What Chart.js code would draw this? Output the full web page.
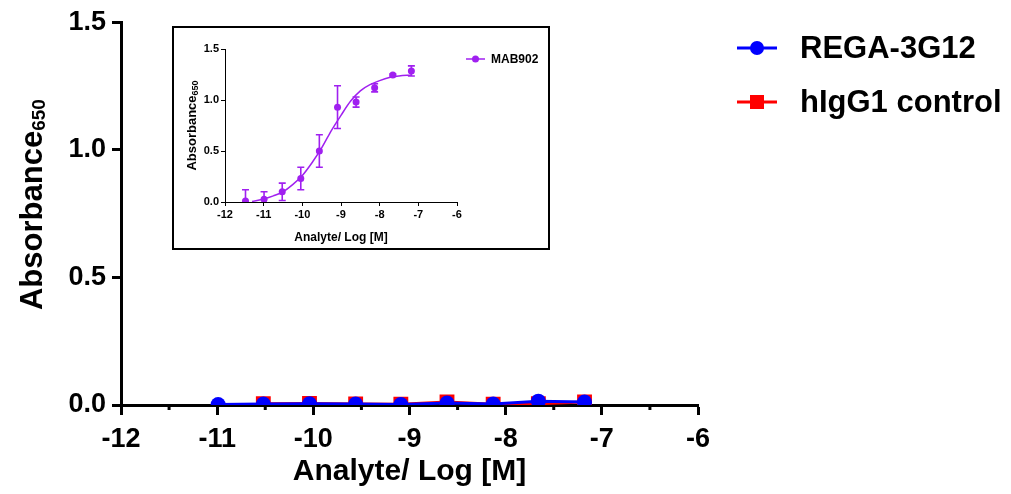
<!DOCTYPE html>
<html>
<head>
<meta charset="utf-8">
<script src="https://cdn.jsdelivr.net/npm/chart.js@4/dist/chart.umd.min.js"></script>
<style>
  html, body { margin: 0; padding: 0; background: #fff; }
  #wrap { position: relative; width: 1011px; height: 494px; }
  #main { position: absolute; left: 0; top: 0; }
  #insetBox {
    position: absolute; left: 172px; top: 26px;
    width: 374px; height: 220px;
    border: 2px solid #000; background: #fff;
  }
</style>
</head>
<body>
<div id="wrap">
  <canvas id="main" width="1011" height="494"></canvas>
  <div id="insetBox"><canvas id="inset" width="374" height="220"></canvas></div>
</div>
<script>
const FONT = "Arial, 'Liberation Sans', sans-serif";

// main chart data (log M vs absorbance)
const regaX = [-10.99, -10.52, -10.04, -9.56, -9.09, -8.61, -8.13, -7.66, -7.18];
const regaY = [0.002, 0.004, 0.005, 0.004, 0.002, 0.008, 0.004, 0.015, 0.012];
const igg1X = [-10.52, -10.04, -9.56, -9.09, -8.61, -8.13, -7.66, -7.18];
const igg1Y = [0.005, 0.006, 0.004, 0.003, 0.012, 0.003, 0.005, 0.012];

// inset data: MAB902 means and SD
const mabX = [-11.47, -10.99, -10.52, -10.04, -9.56, -9.09, -8.61, -8.13, -7.66, -7.18];
const mabY = [0.01, 0.026, 0.10, 0.23, 0.50, 0.93, 0.98, 1.12, 1.245, 1.285];
const mabErr = [0.11, 0.075, 0.085, 0.11, 0.16, 0.21, 0.05, 0.04, 0.01, 0.05];
// fitted curve
const fitX = [-11.3, -11.0, -10.75, -10.5, -10.25, -10.0, -9.75, -9.5, -9.25, -9.0, -8.75, -8.5, -8.25, -8.0, -7.75, -7.5, -7.18];
const fitY = [0.005, 0.03, 0.06, 0.10, 0.17, 0.26, 0.385, 0.53, 0.70, 0.85, 0.99, 1.09, 1.15, 1.19, 1.22, 1.235, 1.245];

const xTicks = [-12, -11, -10, -9, -8, -7, -6];
const yTicks = [0, 0.5, 1.0, 1.5];

const pts = (xs, ys) => xs.map((x, i) => ({ x: x, y: ys[i] }));

// draws rotated "Absorbance" with a subscript "650"
function yTitlePlugin(cx, dy, size, subSize, drop) {
  return {
    id: "yTitle",
    afterDraw(chart) {
      const ctx = chart.ctx;
      const a = chart.chartArea;
      const main = "Absorbance", sub = "650";
      ctx.save();
      ctx.font = "bold " + size + "px " + FONT;
      const w1 = ctx.measureText(main).width;
      ctx.font = "bold " + subSize + "px " + FONT;
      const w2 = ctx.measureText(sub).width;
      const total = w1 + w2;
      ctx.translate(cx, (a.top + a.bottom) / 2 + dy);
      ctx.rotate(-Math.PI / 2);
      ctx.fillStyle = "#000";
      ctx.textBaseline = "alphabetic";
      ctx.textAlign = "left";
      ctx.font = "bold " + size + "px " + FONT;
      ctx.fillText(main, -total / 2, 0);
      ctx.font = "bold " + subSize + "px " + FONT;
      ctx.fillText(sub, -total / 2 + w1, drop);
      ctx.restore();
    }
  };
}

// half-unit minor ticks under the x axis
function minorTicks(len, width) {
  return {
    id: "minorTicks",
    afterDraw(chart) {
      const xs = chart.scales.x, a = chart.chartArea, ctx = chart.ctx;
      ctx.save();
      ctx.strokeStyle = "#000";
      ctx.lineWidth = width;
      for (let v = xs.min + 0.5; v < xs.max; v += 1) {
        const px = xs.getPixelForValue(v);
        ctx.beginPath();
        ctx.moveTo(px, a.bottom);
        ctx.lineTo(px, a.bottom + len);
        ctx.stroke();
      }
      ctx.restore();
    }
  };
}

// legend drawn next to the plot
function sideLegend(x0, y0, rowGap, lineLen, textGap, fontSize) {
  return {
    id: "sideLegend",
    afterDraw(chart) {
      const ctx = chart.ctx;
      chart.data.datasets.forEach((ds, i) => {
        if (!ds.label) return;
        const y = y0 + i * rowGap;
        ctx.save();
        ctx.strokeStyle = ds.borderColor;
        ctx.lineWidth = ds.borderWidth;
        ctx.beginPath();
        ctx.moveTo(x0, y);
        ctx.lineTo(x0 + lineLen, y);
        ctx.stroke();
        ctx.fillStyle = ds.pointBackgroundColor;
        const r = ds.legendRadius;
        if (ds.pointStyle === "rect") {
          ctx.fillRect(x0 + lineLen / 2 - r, y - r, 2 * r, 2 * r);
        } else {
          ctx.beginPath();
          ctx.arc(x0 + lineLen / 2, y, r, 0, Math.PI * 2);
          ctx.fill();
        }
        ctx.fillStyle = "#000";
        ctx.font = "bold " + fontSize + "px " + FONT;
        ctx.textBaseline = "middle";
        ctx.fillText(ds.label, x0 + lineLen + textGap, y + 1);
        ctx.restore();
      });
    }
  };
}

new Chart(document.getElementById("main"), {
  type: "line",
  data: {
    datasets: [
      {
        label: "REGA-3G12",
        data: pts(regaX, regaY),
        borderColor: "#0000ff",
        backgroundColor: "#0000ff",
        pointBackgroundColor: "#0000ff",
        pointBorderWidth: 0,
        borderWidth: 3,
        pointRadius: 7.5,
        pointStyle: "circle",
        legendRadius: 7,
        tension: 0
      },
      {
        label: "hIgG1 control",
        data: pts(igg1X, igg1Y),
        borderColor: "#ff0000",
        backgroundColor: "#ff0000",
        pointBackgroundColor: "#ff0000",
        pointBorderWidth: 0,
        borderWidth: 3,
        pointRadius: 10.5,
        pointStyle: "rect",
        legendRadius: 7,
        tension: 0
      }
    ]
  },
  options: {
    responsive: false,
    animation: false,
    layout: { padding: { top: 20, right: 313, bottom: 0, left: 0 } },
    plugins: { legend: { display: false }, tooltip: { enabled: false } },
    scales: {
      x: {
        type: "linear",
        min: -12, max: -6,
        afterBuildTicks: s => { s.ticks = xTicks.map(v => ({ value: v })); },
        afterFit: s => { s.height = 89; },
        ticks: { color: "#000", font: { family: FONT, size: 27, weight: "bold" }, padding: 8 },
        grid: { drawOnChartArea: false, tickLength: 10, tickWidth: 3, tickColor: "#000" },
        border: { color: "#000", width: 3 },
        title: {
          display: true, text: "Analyte/ Log [M]", color: "#000",
          font: { family: FONT, size: 30, weight: "bold" }, padding: { top: 0, bottom: 4 }
        }
      },
      y: {
        type: "linear",
        min: 0, max: 1.5,
        afterBuildTicks: s => { s.ticks = yTicks.map(v => ({ value: v })); },
        afterFit: s => { s.width = 121; },
        ticks: {
          color: "#000", font: { family: FONT, size: 27, weight: "bold" }, padding: 6,
          callback: v => v.toFixed(1)
        },
        grid: { drawOnChartArea: false, tickLength: 9, tickWidth: 3, tickColor: "#000" },
        border: { color: "#000", width: 3 }
      }
    }
  },
  plugins: [yTitlePlugin(42, -9, 31, 19, 3), minorTicks(5, 3), sideLegend(737, 48, 54, 40, 23, 31)]
});

// error bars for the inset
const errorBars = {
  id: "errorBars",
  afterDatasetsDraw(chart) {
    const xs = chart.scales.x, ys = chart.scales.y, ctx = chart.ctx;
    ctx.save();
    ctx.strokeStyle = "#a020f0";
    ctx.lineWidth = 1.6;
    mabX.forEach((x, i) => {
      const px = xs.getPixelForValue(x);
      const top = ys.getPixelForValue(mabY[i] + mabErr[i]);
      const bot = ys.getPixelForValue(Math.max(0, mabY[i] - mabErr[i]));
      ctx.beginPath();
      ctx.moveTo(px, top); ctx.lineTo(px, bot);
      ctx.moveTo(px - 3.5, top); ctx.lineTo(px + 3.5, top);
      if (mabY[i] - mabErr[i] > 0) { ctx.moveTo(px - 3.5, bot); ctx.lineTo(px + 3.5, bot); }
      ctx.stroke();
    });
    ctx.restore();
  }
};

new Chart(document.getElementById("inset"), {
  type: "line",
  data: {
    datasets: [
      {
        label: "MAB902",
        data: pts(mabX, mabY),
        showLine: false,
        borderColor: "#a020f0",
        backgroundColor: "#a020f0",
        pointBackgroundColor: "#a020f0",
        pointBorderWidth: 0,
        borderWidth: 1.5,
        pointRadius: 3.5,
        legendRadius: 3.5
      },
      {
        label: "",
        data: pts(fitX, fitY),
        borderColor: "#a020f0",
        borderWidth: 1.5,
        pointRadius: 0,
        cubicInterpolationMode: "monotone"
      }
    ]
  },
  options: {
    responsive: false,
    animation: false,
    layout: { padding: { top: 21, right: 91, bottom: 0, left: 0 } },
    plugins: { legend: { display: false }, tooltip: { enabled: false } },
    scales: {
      x: {
        type: "linear",
        min: -12, max: -6,
        afterBuildTicks: s => { s.ticks = xTicks.map(v => ({ value: v })); },
        afterFit: s => { s.height = 46; },
        ticks: { color: "#000", font: { family: FONT, size: 11, weight: "bold" }, padding: 2 },
        grid: { drawOnChartArea: false, tickLength: 4, tickWidth: 1, tickColor: "#000" },
        border: { color: "#000", width: 1 },
        title: {
          display: true, text: "Analyte/ Log [M]", color: "#000",
          font: { family: FONT, size: 12, weight: "bold" }, padding: { top: 0, bottom: 3 }
        }
      },
      y: {
        type: "linear",
        min: 0, max: 1.5,
        afterBuildTicks: s => { s.ticks = yTicks.map(v => ({ value: v })); },
        afterFit: s => { s.width = 51; },
        ticks: {
          color: "#000", font: { family: FONT, size: 11, weight: "bold" }, padding: 2,
          callback: v => v.toFixed(1)
        },
        grid: { drawOnChartArea: false, tickLength: 4, tickWidth: 1, tickColor: "#000" },
        border: { color: "#000", width: 1 }
      }
    }
  },
  plugins: [errorBars, yTitlePlugin(22, 0, 13, 9, 2), sideLegend(292, 31, 20, 19, 6, 12)]
});
</script>
</body>
</html>
